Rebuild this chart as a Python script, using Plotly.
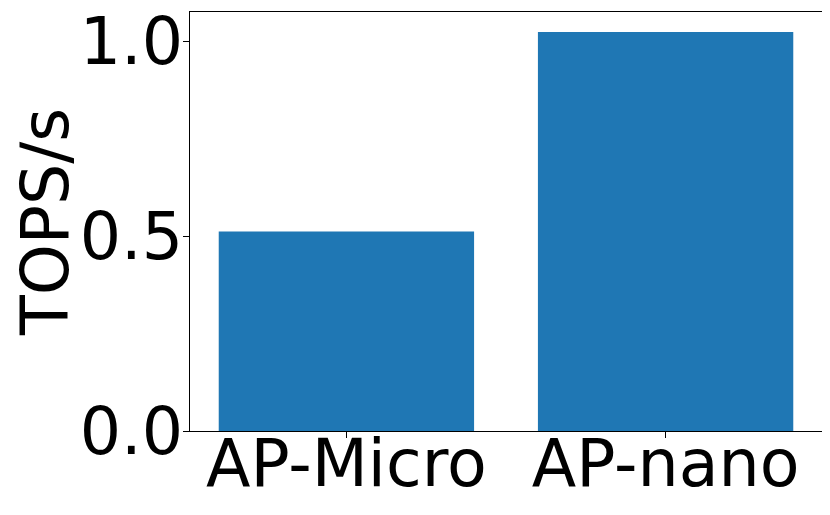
import plotly.graph_objects as go

# data
devices = ["AP-Micro", "AP-nano"]
tops = [0.512, 1.024]

font_family = "DejaVu Sans, sans-serif"
fs = 65

fig = go.Figure()
fig.add_trace(
    go.Bar(
        x=[0, 1],
        y=tops,
        width=0.8,
        marker=dict(color="#1f77b4", line=dict(width=0)),
    )
)

# page body has an 8px margin, so margins are shifted to compensate
fig.update_layout(
    width=830,
    height=515,
    paper_bgcolor="white",
    plot_bgcolor="white",
    showlegend=False,
    margin=dict(l=182, r=16, t=4, b=92, autoexpand=False),
    font=dict(family=font_family, size=fs, color="black"),
)

fig.update_xaxes(
    range=[-0.49, 1.49],
    tickmode="array",
    tickvals=[0, 1],
    ticktext=devices,
    ticks="outside",
    ticklen=6,
    tickcolor="black",
    showline=True,
    linecolor="black",
    linewidth=1,
    mirror=True,
    showgrid=False,
    zeroline=False,
    automargin=False,
    ticklabelstandoff=-30,
    ticklabeloverflow="allow",
    tickfont=dict(size=fs),
)
fig.update_yaxes(
    range=[0, 1.075],
    tickmode="array",
    tickvals=[0.0, 0.5, 1.0],
    ticktext=["0.0", "0.5", "1.0"],
    ticks="outside",
    ticklen=6,
    tickcolor="black",
    showline=True,
    linecolor="black",
    linewidth=1,
    mirror=True,
    showgrid=False,
    zeroline=False,
    automargin=True,
    ticklabelstandoff=-13,
    ticklabeloverflow="allow",
    tickfont=dict(size=fs),
    title=dict(text="TOPS/s", font=dict(size=fs), standoff=8),
)

fig.write_html("out.html")
